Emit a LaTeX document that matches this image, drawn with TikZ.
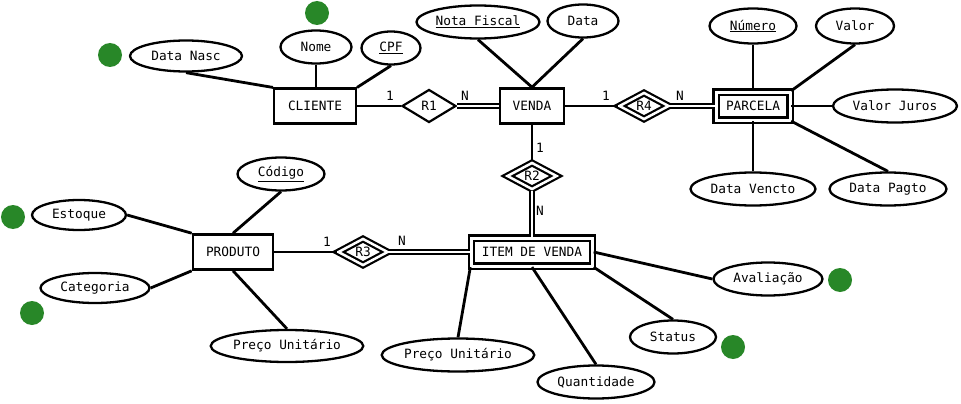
\documentclass[tikz,border=0pt]{standalone}
\usepackage{fontspec}
\setmainfont{DejaVu Sans Mono}
\usetikzlibrary{shapes.geometric}
\definecolor{dotgreen}{RGB}{40,135,40}

\begin{document}
\begin{tikzpicture}[x=1pt,y=-1pt,
    every node/.style={font=\fontsize{12.8}{14}\selectfont},
    entity/.style={draw,rectangle,line width=2.6pt,minimum height=35pt,inner sep=0pt},
    weak/.style={entity,line width=2.3pt,double,double distance=3pt,minimum height=28pt},
    rel/.style={draw,diamond,line width=2.2pt,minimum width=54pt,minimum height=33pt,inner sep=0pt},
    idrel/.style={rel,double,double distance=2.5pt,minimum width=50pt,minimum height=27pt},
    attr/.style={draw,ellipse,line width=2.3pt,minimum height=33pt,inner sep=0pt},
    link/.style={line width=2.8pt},
    total/.style={line width=2.2pt,double,double distance=2.3pt}]
    \fill[white] (0,0) rectangle (961,404);

    % entidades
    \node (cliente) at (315,106) [entity,line width=2.1pt,minimum width=82pt] {CLIENTE};
    \node (venda) at (532,106) [entity,minimum width=64pt] {VENDA};
    \node (parcela) at (753,106) [weak,minimum width=74pt] {PARCELA};
    \node (produto) at (233,252) [entity,minimum width=80pt] {PRODUTO};
    \node (item) at (532,252) [weak,minimum width=121pt] {ITEM DE VENDA};

    % relacionamentos
    \node (r1) at (429,106) [rel] {R1};
    \node (r2) at (532,176) [idrel] {R2};
    \node (r3) at (363,252) [idrel] {R3};
    \node (r4) at (644,106) [idrel] {R4};

    % atributos
    \node (dnasc) at (186,56) [attr,minimum width=112pt,minimum height=31pt] {Data Nasc};
    \node (nome) at (316,47) [attr,minimum width=71pt] {Nome};
    \node (cpf) at (391,48) [attr,minimum width=59pt] {\underline{CPF}};
    \node (nf) at (478,22) [attr,minimum width=123pt] {\underline{Nota Fiscal}};
    \node (data) at (583,21) [attr,minimum width=71pt] {Data};
    \node (numero) at (753,26) [attr,minimum width=87pt,minimum height=35pt] {\underline{Número}};
    \node (valor) at (855,26) [attr,minimum width=78pt,minimum height=35pt] {Valor};
    \node (vjuros) at (895,106) [attr,minimum width=124pt] {Valor Juros};
    \node (dvencto) at (753,189) [attr,minimum width=125pt] {Data Vencto};
    \node (dpagto) at (888,189) [attr,minimum width=117pt] {Data Pagto};
    \node (codigo) at (281,174) [attr,minimum width=87pt] {\underline{Código}};
    \node (estoque) at (79,215) [attr,minimum width=94pt,minimum height=30pt] {Estoque};
    \node (categoria) at (95,288) [attr,minimum width=109pt,minimum height=30pt] {Categoria};
    \node (pu1) at (287,346) [attr,minimum width=148pt,minimum height=32pt] {Preço Unitário};
    \node (pu2) at (458,355) [attr,minimum width=148pt] {Preço Unitário};
    \node (qtd) at (596,382) [attr,minimum width=117pt] {Quantidade};
    \node (status) at (673,337) [attr,minimum width=86pt] {Status};
    \node (aval) at (768,279) [attr,minimum width=109pt] {Avaliação};

    \draw[link] (cliente) -- (r1);
    \draw[total] (r1) -- (venda);
    \draw[link] (venda) -- (r4);
    \draw[total] (r4) -- (parcela);
    \draw[link] (venda) -- (r2);
    \draw[total] (r2) -- (item);
    \draw[link] (produto) -- (r3);
    \draw[total] (r3) -- (item);

    \node (c1) at (390,96) {1};
    \node (c2) at (465,96) {N};
    \node (c3) at (606,96) {1};
    \node (c4) at (680,96) {N};
    \node (c5) at (540,148) {1};
    \node (c6) at (540,211) {N};
    \node (c7) at (327,242) {1};
    \node (c8) at (402,241) {N};

    \draw[link] (dnasc.south) -- (cliente.north west);
    \draw[link] (nome) -- (nome |- cliente.north);
    \draw[link] (cpf.south) -- (cliente.north east);
    \draw[link] (nf.south) -- (venda.north);
    \draw[link] (data.south) -- (venda.north);
    \draw[link] (numero) -- (parcela);
    \draw[link] (valor.south) -- (parcela.north east);
    \draw[link] (vjuros) -- (parcela);
    \draw[link] (dvencto) -- (parcela);
    \draw[link] (dpagto.north) -- (parcela.south east);
    \draw[link] (codigo.south) -- (produto.north);
    \draw[link] (estoque.east) -- (produto.north west);
    \draw[link] (categoria.east) -- (produto.south west);
    \draw[link] (pu1.north) -- (produto.south);
    \draw[link] (pu2.north) -- (item.south west);
    \draw[link] (qtd.north) -- (item.south);
    \draw[link] (status.north) -- (item.south east);
    \draw[link] (aval.west) -- (item.east);

    \foreach \x/\y in {317/13, 110/55, 13/217, 32/313, 840/280, 733/347}
      \fill[dotgreen] (\x,\y) circle (12pt);
\end{tikzpicture}
\end{document}
